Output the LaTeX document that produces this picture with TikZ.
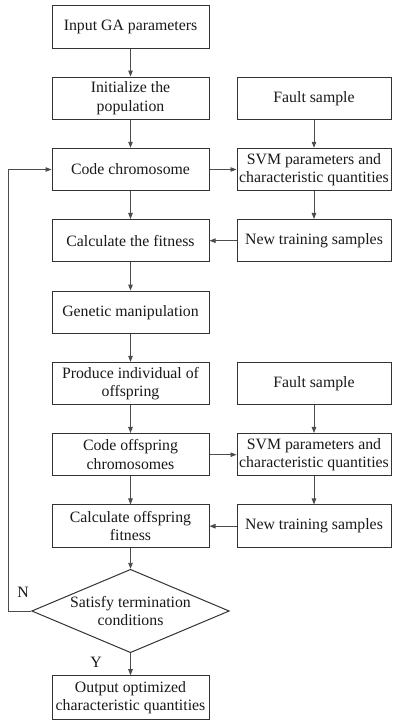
\documentclass[tikz,border=0pt]{standalone}
\usepackage{fontspec}
\setmainfont{Liberation Serif}
\usetikzlibrary{arrows.meta,shapes.geometric}
\begin{document}
\begin{tikzpicture}[x=1pt,y=-1pt,
  font=\fontsize{15.8}{18.5}\selectfont,
  box/.style={draw=black!80,line width=1pt,minimum width=157pt,minimum height=42.5pt,inner sep=0pt,align=center,text=black!90},
  rbox/.style={box,minimum width=154pt},
  conn/.style={draw=black!70,line width=0.9pt,-{Triangle[length=6pt,width=4.5pt]}},
  lbl/.style={inner sep=0pt,text=black!90}]
\useasboundingbox[fill=white] (0,0) rectangle (392,720);
\node[box] (b1) at (130.5,27) {Input GA parameters};
\node[box] (b2) at (130.5,98.3) {Initialize the\\population};
\node[box] (b3) at (130.5,169.5) {Code chromosome};
\node[box] (b4) at (130.5,240.7) {Calculate the fitness};
\node[box] (b5) at (130.5,312.3) {Genetic manipulation};
\node[box] (b6) at (130.5,383.6) {Produce individual of\\offspring};
\node[box] (b7) at (130.5,454.7) {Code offspring\\chromosomes};
\node[box] (b8) at (130.5,526.2) {Calculate offspring\\fitness};
\node[draw=black!80,line width=1pt,diamond,minimum width=197.6pt,minimum height=83.4pt,inner sep=0pt] (d) at (130.5,611) {};
\node[lbl,align=center] (dt) at (d.center) {Satisfy termination\\conditions};
\node[box,minimum height=43.6pt] (b9) at (130.5,697.5) {Output optimized\\characteristic quantities};
\node[rbox] (r1) at (314,98.3) {Fault sample};
\node[rbox] (r2) at (314,169.5) {SVM parameters and\\characteristic quantities};
\node[rbox] (r3) at (314,240.7) {New training samples};
\node[rbox] (r4) at (314,383.6) {Fault sample};
\node[rbox] (r5) at (314,454.7) {SVM parameters and\\characteristic quantities};
\node[rbox] (r6) at (314,526.2) {New training samples};
\coordinate (fb) at (8.3,611);
\draw[conn] (b1) -- (b2);
\draw[conn] (b2) -- (b3);
\draw[conn] (b3) -- (b4);
\draw[conn] (b4) -- (b5);
\draw[conn] (b5) -- (b6);
\draw[conn] (b6) -- (b7);
\draw[conn] (b7) -- (b8);
\draw[conn] (b8) -- (d);
\draw[conn] (d) -- (b9);
\draw[conn] (r1) -- (r2);
\draw[conn] (r2) -- (r3);
\draw[conn] (r4) -- (r5);
\draw[conn] (r5) -- (r6);
\draw[conn] (b3) -- (r2);
\draw[conn] (r3) -- (b4);
\draw[conn] (b7) -- (r5);
\draw[conn] (r6) -- (b8);
\draw[conn] (d.west) -- (fb) |- (b3.west);
\node[lbl] (n) at (23,592) {N};
\node[lbl] (y) at (96,662) {Y};
\end{tikzpicture}
\end{document}
